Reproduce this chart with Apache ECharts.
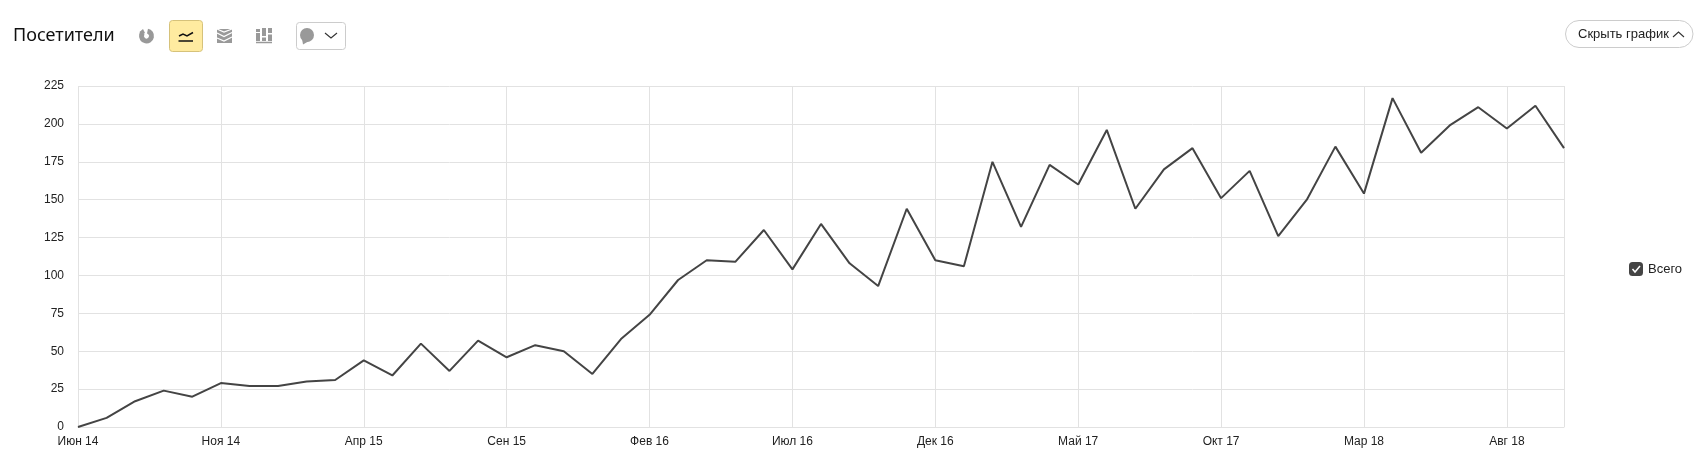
<!DOCTYPE html>
<html><head><meta charset="utf-8">
<style>html,body{margin:0;padding:0;background:#fff}#c{width:1696px;height:467px}</style>
<script src="https://cdn.jsdelivr.net/npm/echarts@6/dist/echarts.min.js"></script>
</head><body><div id="c"></div>
<script>
const months = ['Июн 14','Июл 14','Авг 14','Сен 14','Окт 14','Ноя 14','Дек 14','Янв 15','Фев 15','Мар 15','Апр 15','Май 15','Июн 15','Июл 15','Авг 15','Сен 15','Окт 15','Ноя 15','Дек 15','Янв 16','Фев 16','Мар 16','Апр 16','Май 16','Июн 16','Июл 16','Авг 16','Сен 16','Окт 16','Ноя 16','Дек 16','Янв 17','Фев 17','Мар 17','Апр 17','Май 17','Июн 17','Июл 17','Авг 17','Сен 17','Окт 17','Ноя 17','Дек 17','Янв 18','Фев 18','Мар 18','Апр 18','Май 18','Июн 18','Июл 18','Авг 18','Сен 18','Окт 18'];
const visitors = [0,6,17,24,20,29,27,27,30,31,44,34,55,37,57,46,54,50,35,58,74,97,110,109,130,104,134,108,93,144,110,106,175,132,173,160,196,144,170,184,151,169,126,150,185,154,217,181,199,211,197,212,184];
const seriesName = 'Всего';
const titleText = 'Посетители';
const hideText = 'Скрыть график';
const gray = '#999';
const chart = echarts.init(document.getElementById('c'));
chart.setOption({
  animation:false,
  title:{text:titleText,left:8,top:22,textStyle:{fontFamily:'Noto Sans',fontSize:18,fontWeight:'normal',color:'#111'}},
  grid:{left:78,right:132,top:86,bottom:40},
  legend:{data:[{name:seriesName,icon:'roundRect'}],selectedMode:false,left:1629,top:262,padding:0,itemWidth:14,itemHeight:14,itemGap:5,
    textStyle:{fontFamily:'Liberation Sans',fontSize:13,color:'#222'}},
  xAxis:{type:'category',data:months,boundaryGap:false,
    axisLine:{lineStyle:{color:'#e2e2e2'}},axisTick:{show:false},
    axisLabel:{interval:4,color:'#222',fontFamily:'Liberation Sans',fontSize:12,margin:9},
    splitLine:{show:true,interval:4,lineStyle:{color:'#e2e2e2'}}},
  yAxis:{type:'value',min:0,max:225,interval:25,
    axisLine:{show:false},axisTick:{show:false},
    axisLabel:{color:'#222',fontFamily:'Liberation Sans',fontSize:12,margin:14,padding:[2,0,0,0]},
    splitLine:{lineStyle:{color:'#e2e2e2'}}},
  series:[{name:seriesName,type:'line',data:visitors,symbol:'none',lineStyle:{color:'#444',width:2},itemStyle:{color:'#444'}}],
  graphic:[
    {type:'line',shape:{x1:1564.5,y1:86,x2:1564.5,y2:427},style:{stroke:'#e2e2e2',lineWidth:1},silent:true},
    // pie icon
    {type:'sector',shape:{cx:146.5,cy:36,r:7.5,r0:2.5,startAngle:-Math.PI/2+0.2,endAngle:Math.PI*1.5-0.9},style:{fill:gray}},
    {type:'polygon',shape:{points:[[139.5,32],[143,29],[145,33],[142,35]]},style:{fill:gray}},
    // active button
    {type:'rect',shape:{x:169.5,y:20.5,width:33,height:31,r:3},style:{fill:'#ffeba0',stroke:'#d6c27a',lineWidth:1}},
    {type:'polyline',shape:{points:[[179,36],[183,34],[187,36],[193,32.5]]},style:{stroke:'#111',lineWidth:1.5,fill:null}},
    {type:'line',shape:{x1:178.5,y1:41,x2:193,y2:41},style:{stroke:'#111',lineWidth:1.5}},
    // stacked area icon
    {type:'rect',shape:{x:217,y:29,width:15,height:14},style:{fill:gray}},
    {type:'polyline',shape:{points:[[217,29],[224,32],[232,29]]},style:{stroke:'#fff',lineWidth:1.2,fill:null}},
    {type:'polyline',shape:{points:[[217,33],[224,36.5],[232,32.5]]},style:{stroke:'#fff',lineWidth:1.2,fill:null}},
    {type:'polyline',shape:{points:[[217,38],[224,41],[232,37]]},style:{stroke:'#fff',lineWidth:1.2,fill:null}},
    // bar icon
    {type:'rect',shape:{x:256,y:29,width:4,height:3},style:{fill:gray}},
    {type:'rect',shape:{x:256,y:33,width:4,height:8},style:{fill:gray}},
    {type:'rect',shape:{x:262,y:28,width:4,height:8},style:{fill:gray}},
    {type:'rect',shape:{x:262,y:37.5,width:4,height:3.5},style:{fill:gray}},
    {type:'rect',shape:{x:268,y:28,width:4,height:5},style:{fill:gray}},
    {type:'rect',shape:{x:268,y:34.5,width:4,height:6.5},style:{fill:gray}},
    {type:'line',shape:{x1:256,y1:42.5,x2:272,y2:42.5},style:{stroke:gray,lineWidth:1.5}},
    // comment dropdown
    {type:'rect',shape:{x:296.5,y:22.5,width:49,height:27,r:3},style:{fill:'#fff',stroke:'#ccc',lineWidth:1}},
    {type:'circle',shape:{cx:307,cy:35,r:7},style:{fill:gray}},
    {type:'polygon',shape:{points:[[302,39],[303,44.5],[309,41]]},style:{fill:gray}},
    {type:'polyline',shape:{points:[[325,33],[331,38],[337,33]]},style:{stroke:'#333',lineWidth:1.1,fill:null}},
    // hide pill
    {type:'rect',shape:{x:1565.5,y:20.5,width:127.5,height:27,r:13.5},style:{fill:'#fff',stroke:'#ccc',lineWidth:1}},
    {type:'text',x:1578,y:34,style:{text:hideText,font:'13px "Liberation Sans"',fill:'#222',verticalAlign:'middle'}},
    {type:'polyline',shape:{points:[[1673,37],[1678.5,32],[1684,37]]},style:{stroke:'#333',lineWidth:1.1,fill:null}},
    // legend check
    {type:'polyline',z:100,shape:{points:[[1632.5,269],[1635,272],[1640,266]]},style:{stroke:'#fff',lineWidth:1.5,fill:null}}
  ]
});
</script></body></html>
